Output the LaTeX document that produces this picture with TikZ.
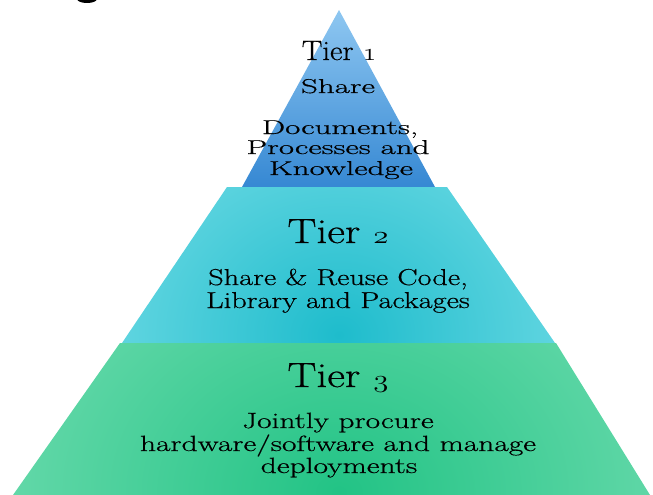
\documentclass[tikz,border=0pt]{standalone}
\usepackage{fontspec}
\newfontfamily\heavy{Latin Modern Roman}[FakeBold=0.5]
\usetikzlibrary{shapes.geometric}
\definecolor{tOneTop}{RGB}{142,199,241}
\definecolor{tOneBot}{RGB}{54,136,211}
\definecolor{tTwoIn}{RGB}{30,188,204}
\definecolor{tTwoOut}{RGB}{178,244,249}
\definecolor{tThreeIn}{RGB}{34,195,133}
\definecolor{tThreeOut}{RGB}{182,243,214}
\newcommand\osn[1]{{\fontencoding{OML}\fontfamily{cmm}\fontseries{m}\fontshape{it}\selectfont #1}}
\tikzset{
  headtxt/.style={anchor=base, inner sep=0pt, text=black},
  bodytxt/.style={anchor=base, inner sep=0pt, text=black},
}
\newcommand\hdA[1]{{\heavy\fontsize{28}{28}\selectfont\scalebox{1.1}[1]{#1}}}
\newcommand\hdB[1]{{\heavy\fontsize{35}{35}\selectfont\scalebox{1.24}[1]{#1}}}
\newcommand\bdA[1]{{\heavy\fontsize{20}{20}\selectfont\scalebox{1.65}[1]{#1}}}
\newcommand\bdB[1]{{\heavy\fontsize{23}{23}\selectfont\scalebox{1.32}[1]{#1}}}
\newcommand\bdC[1]{{\heavy\fontsize{22}{22}\selectfont\scalebox{1.43}[1]{#1}}}
\begin{document}
\begin{tikzpicture}[x=1pt,y=-1pt]
\useasboundingbox (0,0) rectangle (653,495);
\begin{scope}
  \clip (0,0) rectangle (653,495);
  \fill[black] (87,-1) ellipse (10 and 4);
\end{scope}
% Tier 1
\shade[top color=tOneTop, bottom color=tOneBot] (339,10) -- (435,187) -- (242,187) -- cycle;
% Tier 2
\begin{scope}
  \clip (227,187) -- (447,187) -- (555,343) -- (122,343) -- cycle;
  \shade[inner color=tTwoIn, outer color=tTwoOut] (339,335) ellipse (500 and 440);
\end{scope}
% Tier 3
\begin{scope}
  \clip (120,343) -- (556,343) -- (650,495) -- (13,495) -- cycle;
  \shade[inner color=tThreeIn, outer color=tThreeOut] (339,492) ellipse (760 and 600);
\end{scope}
% Texts
\node[headtxt] (h1) at (339,60) {\hdA{Tier \osn{1}}};
\node[bodytxt] (b1a) at (338,93) {\bdA{Share}};
\node[bodytxt] (b1b) at (340,134) {\bdA{Documents,}};
\node[bodytxt] (b1c) at (338,154) {\bdA{Processes and}};
\node[bodytxt] (b1d) at (341,175) {\bdA{Knowledge}};
\node[headtxt] (h2) at (338,243) {\hdB{Tier \osn{2}}};
\node[bodytxt] (b2a) at (338,285) {\bdB{Share \& Reuse Code,}};
\node[bodytxt] (b2b) at (338,308) {\bdB{Library and Packages}};
\node[headtxt] (h3) at (338,387) {\hdB{Tier \osn{3}}};
\node[bodytxt] (b3a) at (338,428) {\bdC{Jointly procure}};
\node[bodytxt] (b3b) at (338,451) {\bdC{hardware/software and manage}};
\node[bodytxt] (b3c) at (339,473) {\bdC{deployments}};
\end{tikzpicture}
\end{document}
